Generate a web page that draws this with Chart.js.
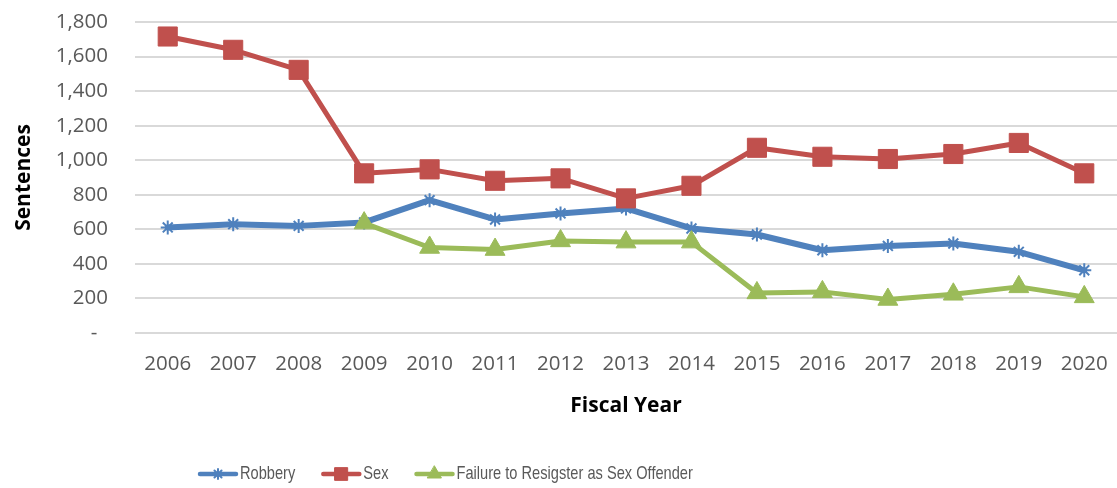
<!DOCTYPE html>
<html>
<head>
<meta charset="utf-8">
<script src="https://cdn.jsdelivr.net/npm/chart.js@4.4.1/dist/chart.umd.min.js"></script>
<style>
  html, body { margin: 0; padding: 0; background: #ffffff; }
  #wrap { width: 1117px; height: 488px; position: relative; }
</style>
</head>
<body>
<div id="wrap"><canvas id="c" width="1117" height="488"></canvas></div>
<script>
// ---- Data ----
const years = ['2006','2007','2008','2009','2010','2011','2012','2013','2014','2015','2016','2017','2018','2019','2020'];
const robbery = [611, 630, 620, 640, 769, 657, 692, 721, 605, 570, 479, 504, 518, 470, 363];
const sexOffense = [1716, 1639, 1523, 924, 947, 881, 895, 779, 852, 1072, 1020, 1007, 1036, 1100, 924];
const failureToRegister = [null, null, null, 636, 495, 483, 533, 526, 526, 232, 238, 194, 224, 267, 209];
const seriesNames = ['Robbery', 'Sex', 'Failure to Resigster as Sex Offender'];
const yTicks = [0, 200, 400, 600, 800, 1000, 1200, 1400, 1600, 1800];
const xTitle = 'Fiscal Year';
const yTitle = 'Sentences';

const BLUE = '#4F81BD', RED = '#C0504D', GREEN = '#9BBB59';
const TICK_FONT = "'Open Sans', 'Liberation Sans', sans-serif";

// Excel-style legend (line + marker, then label)
const excelLegend = {
  id: 'excelLegend',
  afterDraw(chart, args, opts) {
    const ctx = chart.ctx;
    ctx.save();
    ctx.font = opts.font;
    let x = opts.x;
    const y = opts.y;
    chart.data.datasets.forEach(ds => {
      ctx.strokeStyle = ds.borderColor;
      ctx.lineWidth = opts.lineWidth;
      ctx.lineCap = 'round';
      ctx.beginPath();
      ctx.moveTo(x + 2, y);
      ctx.lineTo(x + opts.iconWidth - 2, y);
      ctx.stroke();
      ctx.fillStyle = ds.pointBackgroundColor;
      ctx.strokeStyle = ds.pointBorderColor;
      ctx.lineWidth = ds.pointBorderWidth;
      Chart.helpers.drawPoint(ctx, {
        pointStyle: ds.pointStyle,
        radius: opts.markerRadius[ds.pointStyle],
        borderWidth: ds.pointBorderWidth,
        rotation: 0
      }, x + opts.iconWidth / 2, y);
      ctx.fillStyle = opts.color;
      ctx.textAlign = 'left';
      ctx.textBaseline = 'middle';
      const tx = x + opts.iconWidth + opts.textGap;
      ctx.save();
      ctx.translate(tx, y);
      ctx.scale(opts.textScaleX, 1);
      ctx.fillText(ds.label, 0, 0);
      ctx.restore();
      x = tx + ctx.measureText(ds.label).width * opts.textScaleX + opts.itemGap;
    });
    ctx.restore();
  }
};

new Chart(document.getElementById('c'), {
  type: 'line',
  data: {
    labels: years,
    datasets: [
      {
        label: seriesNames[0], data: robbery, order: 2,
        borderColor: BLUE, borderWidth: 6, borderJoinStyle: 'round', borderCapStyle: 'round',
        pointStyle: 'star', pointRadius: 7, pointBorderWidth: 2,
        pointBorderColor: BLUE, pointBackgroundColor: BLUE, tension: 0
      },
      {
        label: seriesNames[1], data: sexOffense, order: 1,
        borderColor: RED, borderWidth: 5, borderJoinStyle: 'round', borderCapStyle: 'round',
        pointStyle: 'rect', pointRadius: 13.5, pointBorderWidth: 1,
        pointBorderColor: RED, pointBackgroundColor: RED, tension: 0
      },
      {
        label: seriesNames[2], data: failureToRegister, order: 0,
        borderColor: GREEN, borderWidth: 5, borderJoinStyle: 'round', borderCapStyle: 'round',
        pointStyle: 'triangle', pointRadius: 11.5, pointBorderWidth: 1,
        pointBorderColor: GREEN, pointBackgroundColor: GREEN, tension: 0
      }
    ]
  },
  options: {
    responsive: false,
    animation: false,
    devicePixelRatio: 1,
    layout: { autoPadding: false, padding: { top: 22, right: 0, bottom: 0, left: 0 } },
    plugins: {
      legend: { display: false },
      tooltip: { enabled: false },
      excelLegend: {
        x: 198, y: 474, iconWidth: 40, textGap: 2, itemGap: 26, lineWidth: 4.5,
        markerRadius: { star: 5, rect: 9, triangle: 8 },
        font: "19px 'Liberation Sans', 'Open Sans', sans-serif",
        textScaleX: 0.77,
        color: '#595959'
      }
    },
    scales: {
      x: {
        type: 'category',
        offset: true,
        grid: { display: false, drawTicks: true, tickLength: 19 },
        border: { display: false },
        ticks: {
          color: '#595959', font: { family: TICK_FONT, size: 20.5 },
          padding: 0, maxRotation: 0, minRotation: 0, autoSkip: false
        },
        title: {
          display: true, text: xTitle, color: '#000000',
          font: { family: TICK_FONT, size: 21, weight: 'bold' },
          padding: { top: 0, bottom: 69 }
        },
        afterFit(scale) {
          scale.height = 155;
          scale.paddingLeft = 0;
          scale.paddingRight = 0;
        }
      },
      y: {
        min: 0, max: 1800,
        afterBuildTicks(scale) { scale.ticks = yTicks.map(v => ({ value: v })); },
        grid: { color: '#D9D9D9', lineWidth: 2, drawTicks: false },
        border: { display: false },
        ticks: {
          color: '#595959', font: { family: TICK_FONT, size: 20.5 }, padding: 27,
          callback: (v) => v === 0 ? '-  ' : v.toLocaleString('en-US')
        },
        title: {
          display: true, text: yTitle, color: '#000000',
          font: { family: TICK_FONT, size: 21, weight: 'bold' },
          padding: { top: 11, bottom: 0 }
        },
        afterFit(scale) {
          scale.width = 135;
          scale.paddingTop = 0;
          scale.paddingBottom = 0;
        }
      }
    }
  },
  plugins: [excelLegend]
});
</script>
</body>
</html>
